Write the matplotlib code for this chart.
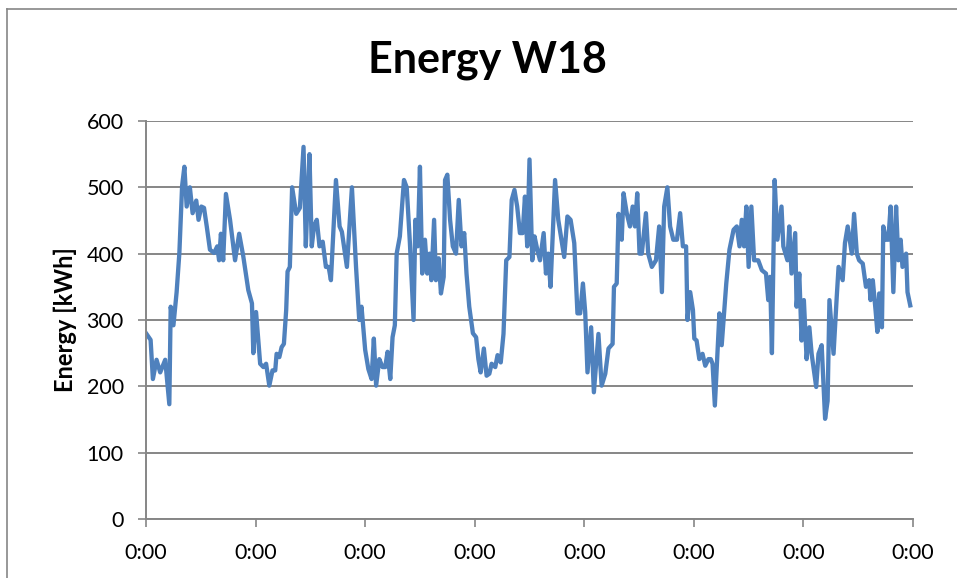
import numpy as np
import matplotlib
matplotlib.use("Agg")
import matplotlib.pyplot as plt
from matplotlib.lines import Line2D

# hours since start of week, energy per reading (kWh)
hours = [
    0, 1.0, 1.5, 2.3, 3.1, 4.2, 5.1, 5.4, 6.0, 6.7, 7.3, 7.9, 8.4, 8.9, 9.6, 10.2, 11.0, 11.5, 12.1, 12.7,
    13.3, 14.0, 14.9, 15.6, 16.0, 16.4, 16.9, 17.5, 18.4, 19.5, 20.4, 21.3, 22.4, 23.2, 23.5, 24.1, 25.0,
    25.7, 26.3, 27.0, 27.7, 28.3, 28.6, 29.2, 29.7, 30.2, 30.7, 31.0, 31.5, 32.0, 32.9, 33.7, 34.5, 35.0,
    35.3, 35.8, 36.3, 36.8, 37.4, 38.0, 38.7, 39.4, 40.0, 40.5, 41.6, 42.4, 42.9, 44.0, 45.1, 46.0, 46.7,
    47.2, 48.0, 48.7, 49.4, 49.9, 50.4, 51.1, 51.8, 52.4, 52.9, 53.5, 54.0, 54.5, 54.9, 55.6, 56.5, 57.1,
    57.8, 58.6, 59.0, 59.5, 60.0, 60.5, 61.1, 61.6, 62.1, 62.5, 63.1, 63.5, 64.1, 64.6, 65.2, 65.5, 66.0,
    66.6, 67.2, 67.9, 68.5, 69.1, 69.7, 70.2, 70.8, 71.6, 72.3, 72.8, 73.3, 74.0, 74.6, 75.2, 75.7, 76.5,
    77.0, 77.7, 78.3, 78.9, 79.6, 80.1, 80.7, 81.3, 81.9, 82.5, 83.0, 83.5, 84.0, 84.6, 85.1, 85.7, 86.3,
    87.1, 87.6, 88.1, 88.6, 89.6, 90.3, 91.1, 91.6, 92.3, 93.0, 93.8, 94.5, 95.1, 95.7, 96.2, 96.7, 97.5,
    98.1, 99.1, 99.8, 100.6, 101.3, 102.2, 102.5, 103.1, 103.5, 104.2, 104.6, 105.3, 106.0, 106.6, 107.1,
    107.6, 108.1, 108.6, 109.5, 110.0, 110.8, 111.7, 112.4, 113.0, 113.5, 114.2, 114.8, 115.5, 116.3, 117.0,
    117.6, 118.3, 118.6, 119.2, 119.8, 120.1, 120.6, 121.2, 121.9, 122.5, 123.2, 123.7, 124.1, 124.6, 125.6,
    126.1, 127.1, 127.8, 128.7, 129.4, 130.0, 130.5, 131.0, 131.5, 132.0, 132.6, 133.2, 134.1, 134.9, 135.8,
    136.3, 136.7, 137.1, 137.7, 138.3, 139.2, 139.6, 140.5, 140.9, 141.4, 142.2, 142.5, 143.1, 143.6, 144.1,
    144.7, 145.3, 145.8, 146.8, 147.3, 148.0, 148.75, 149.3, 149.7, 150.6, 151.3, 151.7, 152.6, 153.1, 153.7,
    154.6, 155.1, 155.7, 156.2, 157.0, 157.7, 158.4, 158.7, 159.2, 159.8, 160.2, 160.6, 161.2, 161.5, 162.1,
    162.6, 163.1, 163.7, 164.3, 164.8, 165.3, 165.7, 166.5, 166.8, 167.4,
]
energy = [
    280, 270, 211, 240, 221, 240, 173, 320, 292, 342, 401, 502, 531, 471, 500, 461, 480, 451, 471, 469,
    441, 406, 401, 411, 390, 430, 390, 490, 451, 390, 430, 396, 345, 325, 250, 312, 234,
    229, 234, 201, 224, 224, 249, 244, 259, 264, 315, 373, 380, 500, 460, 469, 561, 411,
    466, 550, 411, 441, 451, 411, 418, 380, 380, 360, 511, 441, 433, 380, 500, 380, 300,
    320, 255, 226, 211, 272, 201, 241, 229, 229, 252, 211, 274, 292, 400, 426, 511, 500,
    416, 300, 451, 411, 531, 370, 421, 370, 400, 360, 451, 360, 393, 340, 365, 511, 519,
    451, 411, 400, 481, 411, 431, 370, 320, 280, 274, 241, 221, 257, 216, 219, 234, 229,
    247, 236, 279, 390, 395, 481, 496, 471, 431, 431, 486, 411, 542, 390, 426, 406, 390,
    431, 370, 400, 350, 511, 451, 416, 395, 456, 451, 416, 310, 310, 355, 312, 221, 289,
    191, 279, 201, 219, 257, 264, 350, 355, 460, 421, 491, 461, 441, 471, 441,
    491, 400, 400, 461, 400, 380, 390, 441, 342, 471, 500, 441, 421, 421, 461,
    411, 411, 300, 342, 315, 272, 269, 241, 249, 231, 241, 241, 234, 171, 310,
    262, 355, 406, 436, 441, 411, 451, 411, 471, 380, 471, 390, 390, 375, 370,
    330, 365, 250, 511, 421, 471, 411, 390, 441, 370, 431, 320, 370, 269, 330,
    241, 289, 249, 199, 249, 262, 151, 178, 330, 249, 335, 380, 360, 416, 441,
    400, 460, 400, 390, 385, 350, 360, 330, 360, 315, 282, 340, 289, 441, 421,
    421, 471, 342, 471, 390, 421, 380, 400, 342, 322,
]
tick_hours = [0, 24, 48, 72, 96, 120, 144, 168]
tick_labels = ["0:00"] * 8

plt.rcParams['font.family'] = ['Lato', 'DejaVu Sans']
grau = '#868686'

fig = plt.figure(figsize=(9.57, 5.78), dpi=100)
ax = fig.add_axes([0.1526, 0.1021, 0.8014, 0.6886])

ax.plot(hours, energy, color='#4F81BD', lw=3.1, solid_joinstyle='round')

ax.set_xlim(0, 168)
ax.set_ylim(0, 600)
ax.set_yticks(range(0, 601, 100))
ax.set_xticks(tick_hours)
ax.set_xticklabels(tick_labels)
ax.grid(axis='y', color=grau, lw=1.4)
ax.set_axisbelow(True)
for s in ['top', 'right']:
    ax.spines[s].set_visible(False)
for s in ['left', 'bottom']:
    ax.spines[s].set_color(grau)
    ax.spines[s].set_linewidth(1.4)
ax.tick_params(axis='both', colors=grau, labelcolor='black', labelsize=15.5, length=6, width=1.2)
ax.tick_params(axis='x', pad=11)
ax.tick_params(axis='y', pad=10)

ax.set_ylabel("Energy [kWh]", fontsize=17, fontweight='bold', labelpad=7)
fig.text(0.509, 0.896, "Energy W18", ha='center', va='center', fontsize=31, fontweight='bold')

# frame of the chart
fig.add_artist(Line2D([0.0073, 0.0073], [0, 0.9836], color=grau, lw=1.2))
fig.add_artist(Line2D([0.0073, 1], [0.9836, 0.9836], color=grau, lw=1.2))

fig.savefig("out.png", dpi=100)
